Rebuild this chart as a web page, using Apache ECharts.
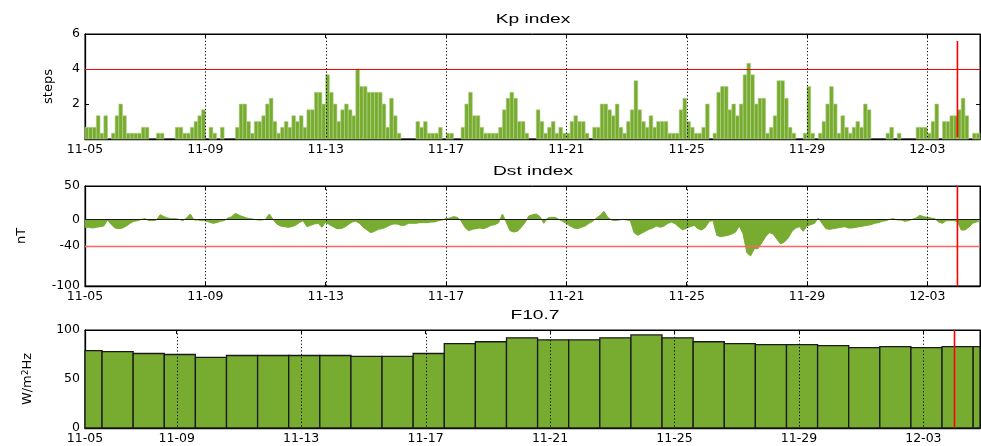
<!DOCTYPE html>
<html>
<head>
<meta charset="utf-8">
<script src="https://cdn.jsdelivr.net/npm/echarts@6.0.0/dist/echarts.min.js"></script>
<style>html,body{margin:0;padding:0;background:#fff;}#chart{width:981px;height:446px;}</style>
</head>
<body>
<div id="chart"></div>
<script>
// ---------------- data ----------------
const year = 2024;
const startDate = '11-05';
const tickLabels = ['11-05','11-09','11-13','11-17','11-21','11-25','11-29','12-03'];
const nowDate = '12-04';
const kpStepHours = 3;
const dstStepHours = 3;

// Kp index, 3-hourly, starting 11-05 00:00
const kpValues = [
  0.67,0.67,0.67,1.33,0.33,1.33,0,0.33,      // 11-05
  1.33,2.0,1.33,0.33,0.33,0.33,0.33,0.67,    // 11-06
  0.67,0,0,0.33,0.33,0,0,0,                  // 11-07
  0.67,0.67,0.33,0.33,0.67,1.0,1.33,1.67,    // 11-08
  0,0.67,0.33,0,0.67,0,0,0,                  // 11-09
  0.67,2.0,2.0,1.0,0.33,1.0,1.0,1.33,        // 11-10
  2.0,2.33,1.0,0.33,0.67,1.0,0.67,1.33,      // 11-11
  1.0,1.33,0.67,1.67,1.67,2.67,2.67,2.0,     // 11-12
  3.67,2.67,2.0,1.0,1.67,2.0,1.67,1.33,      // 11-13
  4.0,3.0,3.0,2.67,2.67,2.67,2.67,2.0,       // 11-14
  0.67,2.33,1.33,0.33,0,0,0,0,               // 11-15
  1.0,0.67,1.0,0.33,0.33,0.33,0.67,0,        // 11-16
  0.33,0.33,0,0,0.67,2.0,2.67,1.33,          // 11-17
  1.33,0.67,0.33,0.33,0.33,0.33,0.67,1.67,   // 11-18
  2.33,2.67,2.33,1.0,1.0,0.33,0,0,           // 11-19
  1.67,1.0,0.33,0.67,1.0,0.33,0.67,0.33,     // 11-20
  0.33,1.0,1.33,1.0,1.0,0.33,0,0.67,         // 11-21
  0.67,2.0,2.0,1.67,1.33,2.0,0.67,0.33,      // 11-22
  1.0,1.67,3.33,1.67,1.0,0.67,1.33,0.67,     // 11-23
  1.0,1.0,1.0,0.33,0.33,0.33,1.67,2.33,      // 11-24
  1.0,0.67,0.33,0.33,0.67,2.0,0,0.33,        // 11-25
  2.67,3.0,3.0,1.67,2.0,1.33,2.0,3.67,       // 11-26
  4.33,3.67,2.0,2.33,2.33,0.33,0.67,1.33,    // 11-27
  3.33,3.33,2.33,0.67,0.33,0,0,0.33,         // 11-28
  3.0,0.33,0,0.33,1.0,2.0,3.0,2.0,           // 11-29
  0.33,1.33,0.67,0.33,0.67,1.0,0.67,2.0,     // 11-30
  1.67,0,0,0,0,0.33,0.67,0,                  // 12-01
  0.33,0,0,0,0,0.67,0.67,0.67,               // 12-02
  0.33,1.0,2.0,0,1.0,1.0,1.33,1.33,          // 12-03
  1.67,2.33,1.33,0,0.33,0.33                 // 12-04
];

// Dst index (nT), 3-hourly samples, starting 11-05 00:00
const dstValues = [
  -12,-12,-13,-12,-11,-10,-1,-8,
  -13,-14,-13,-10,-6,-3,-2,0,
  1,-2,-2,-1,7,4,2,1,
  1,0,-2,2,8,-1,-1,-2,
  -2,-4,-6,-5,-3,-2,2,4,
  9,6,4,2,1,0,-1,-1,
  0,8,0,-7,-10,-11,-12,-11,
  -9,-5,-2,-11,-9,-7,-6,-12,
  -4,-8,-11,-14,-14,-12,-8,-4,
  -3,-6,-12,-16,-20,-18,-15,-14,
  -12,-9,-7,-7,-9,-9,-6,-6,
  -6,-5,-5,-5,-4,-4,-2,-1,
  1,2,4,3,-2,-12,-17,-15,
  -14,-13,-14,-12,-9,-8,-5,8,
  -4,-17,-19,-18,-12,-5,5,7,
  8,4,-6,2,3,3,0,-3,
  -6,-10,-13,-14,-12,-10,-6,-3,
  2,6,12,3,-1,-2,-1,0,
  -1,-2,-20,-24,-21,-18,-15,-13,
  -10,-12,-10,-6,-4,-7,-12,-16,
  -13,-11,-9,-14,-16,-12,-3,-2,
  -24,-26,-25,-24,-22,-19,-10,-22,
  -50,-55,-44,-44,-35,-26,-20,-22,
  -30,-37,-34,-28,-18,-13,-11,-18,
  -10,-8,-6,2,-6,-14,-15,-14,
  -13,-12,-11,-13,-13,-12,-11,-10,
  -9,-8,-6,-5,-3,-2,0,1,
  -1,-1,-3,-2,0,2,6,4,
  3,2,1,-4,-6,-2,-2,-2,
  -3,-16,-16,-12,-6,-4,-3
];

// F10.7 daily values
const f107Dates = ['11-06','11-07','11-08','11-09','11-10','11-11','11-12','11-13','11-14','11-15',
  '11-16','11-17','11-18','11-19','11-20','11-21','11-22','11-23','11-24','11-25',
  '11-26','11-27','11-28','11-29','11-30','12-01','12-02','12-03','12-04','12-05'];
const f107Values = [79,78,76,75,72,74,74,74,74,73,73,76,86,88,92,90,90,92,95,92,88,86,85,85,84,82,83,82,83,83];

const kpThreshold = 4;
const dstThreshold = -40;
const kpYTicks = [0,2,4,6];
const kpYLabels = [2,4,6];
const dstYTicks = [-100,-40,0,50];
const f107YTicks = [0,50,100];

// ---------------- helpers ----------------
const GREEN = '#77ac30';
const FONT = 'DejaVu Sans';
const DAY = 86400000;
function dayOf(md){
  const s = startDate.split('-').map(Number), p = md.split('-').map(Number);
  return (Date.UTC(year, p[0]-1, p[1]) - Date.UTC(year, s[0]-1, s[1])) / DAY;
}
const tickDays = tickLabels.map(dayOf);
const nowDay = dayOf(nowDate);
const kpStep = kpStepHours/24, dstStep = dstStepHours/24;

// axis ranges (layout)
const x12Min = 0, x12Max = 29.75;
const x3Min = 1.052, x3Max = 29.82;
const f107Shift = 0.1;
const x3LabelPos = [x3Min].concat(tickDays.slice(1));

function labelFor(positions){
  return function(v){
    let b = 0;
    for (let i=1;i<positions.length;i++) if (Math.abs(positions[i]-v) < Math.abs(positions[b]-v)) b = i;
    return tickLabels[b];
  };
}
function clip(params, r){
  const cs = params.coordSys;
  return echarts.graphic.clipRectByRect(r, {x:cs.x, y:cs.y, width:cs.width, height:cs.height});
}

const labelStyle = {fontFamily:FONT, fontSize:12.5, color:'#000'};

function xBottom(g, min, max, labelPos){
  return {type:'value', gridIndex:g, min:min, max:max, position:'bottom',
    axisLine:{show:true, onZero:false, lineStyle:{color:'#000', width:1.3}},
    axisTick:{show:true, inside:true, length:4, customValues:tickDays.filter(d=>d>=min&&d<=max), lineStyle:{color:'#000'}},
    axisLabel:Object.assign({show:true, margin:4, customValues:labelPos, formatter:labelFor(labelPos)}, labelStyle),
    splitLine:{show:false}};
}
function xTop(g, min, max){
  return {type:'value', gridIndex:g, min:min, max:max, position:'top',
    axisLine:{show:true, onZero:false, lineStyle:{color:'#000', width:1}},
    axisTick:{show:true, inside:true, length:4, customValues:tickDays.filter(d=>d>=min&&d<=max), lineStyle:{color:'#000'}},
    axisLabel:{show:false}, splitLine:{show:false}};
}
function yLeft(g, min, max, ticks, labels, name, gap, rich){
  const ax = {type:'value', gridIndex:g, min:min, max:max, position:'left',
    axisLine:{show:true, onZero:false, lineStyle:{color:'#000', width:1.3}},
    axisTick:{show:true, inside:true, length:4, customValues:ticks, lineStyle:{color:'#000'}},
    axisLabel:Object.assign({show:true, margin:5, customValues:labels}, labelStyle),
    splitLine:{show:false},
    name:name, nameLocation:'middle', nameGap:gap,
    nameTextStyle:{fontFamily:FONT, fontSize:13, color:'#000'}};
  if (rich) ax.nameTextStyle.rich = rich;
  return ax;
}
function yRight(g, min, max, ticks){
  return {type:'value', gridIndex:g, min:min, max:max, position:'right',
    axisLine:{show:true, onZero:false, lineStyle:{color:'#000', width:1}},
    axisTick:{show:true, inside:true, length:4, customValues:ticks, lineStyle:{color:'#000'}},
    axisLabel:{show:false}, splitLine:{show:false}};
}

function dottedSeries(xi, yi, min, max){
  return {type:'custom', xAxisIndex:xi, yAxisIndex:yi, z:6, silent:true,
    data: tickDays.filter(d=>d>min+0.2 && d<max).map(d=>[d]),
    renderItem:(params, api)=>{
      const cs = params.coordSys;
      const x = Math.round(api.coord([api.value(0), 0])[0]) + 0.5;
      return {type:'line', shape:{x1:x, y1:cs.y, x2:x, y2:cs.y+cs.height},
        style:{stroke:'#000', lineWidth:1, lineDash:[1.2,2.2]}};
    }};
}
function hLineSeries(xi, yi, xmin, v, color, width){
  return {type:'custom', xAxisIndex:xi, yAxisIndex:yi, z:7, silent:true,
    data:[[xmin, v]],
    renderItem:(params, api)=>{
      const cs = params.coordSys;
      const y = Math.round(api.coord([api.value(0), api.value(1)])[1]) + 0.5;
      return {type:'line', shape:{x1:cs.x, y1:y, x2:cs.x+cs.width, y2:y},
        style:{stroke:color, lineWidth:width}};
    }};
}
function nowSeries(xi, yi, yFrom, yTo){
  return {type:'custom', xAxisIndex:xi, yAxisIndex:yi, z:8, silent:true,
    data:[[nowDay, yFrom, yTo]],
    renderItem:(params, api)=>{
      const cs = params.coordSys;
      const a = api.coord([api.value(0), api.value(1)]);
      const b = api.coord([api.value(0), api.value(2)]);
      const y1 = Math.max(cs.y, Math.min(a[1], b[1])), y2 = Math.min(cs.y+cs.height, Math.max(a[1], b[1]));
      return {type:'line', shape:{x1:a[0], y1:y1, x2:a[0], y2:y2},
        style:{stroke:'#ff0000', lineWidth:1.6}};
    }};
}

const option = {
  animation:false,
  backgroundColor:'#fff',
  grid:[
    {left:85, top:34, width:895, height:105, show:true, borderColor:'#000', borderWidth:1},
    {left:85, top:186, width:895, height:100, show:true, borderColor:'#000', borderWidth:1},
    {left:85, top:330, width:895, height:98, show:true, borderColor:'#000', borderWidth:1}
  ],
  xAxis:[
    xBottom(0, x12Min, x12Max, tickDays),
    xBottom(1, x12Min, x12Max, tickDays),
    xBottom(2, x3Min, x3Max, x3LabelPos),
    xTop(0, x12Min, x12Max), xTop(1, x12Min, x12Max), xTop(2, x3Min, x3Max)
  ],
  yAxis:[
    yLeft(0, 0, 6, kpYTicks, kpYLabels, 'steps', 30),
    yLeft(1, -100, 50, dstYTicks, dstYTicks, 'nT', 57),
    yLeft(2, 0, 100, f107YTicks, f107YTicks, 'W/m{sup|2}Hz', 51, {sup:{fontFamily:FONT, fontSize:9, verticalAlign:'top', color:'#000'}}),
    yRight(0, 0, 6, kpYTicks), yRight(1, -100, 50, dstYTicks), yRight(2, 0, 100, f107YTicks)
  ],
  graphic:[
    {type:'text', x:533, y:20, scaleX:1.6, silent:true,
      style:{text:'Kp index', fontFamily:'Liberation Sans', fontSize:12, fill:'#000', align:'center', verticalAlign:'middle', textAlign:'center', textVerticalAlign:'middle'}},
    {type:'text', x:533, y:172, scaleX:1.6, silent:true,
      style:{text:'Dst index', fontFamily:'Liberation Sans', fontSize:12, fill:'#000', align:'center', verticalAlign:'middle', textAlign:'center', textVerticalAlign:'middle'}},
    {type:'text', x:535, y:316, scaleX:1.6, silent:true,
      style:{text:'F10.7', fontFamily:'Liberation Sans', fontSize:12, fill:'#000', align:'center', verticalAlign:'middle', textAlign:'center', textVerticalAlign:'middle'}}
  ],
  series:[
    // Kp bars
    {type:'custom', name:'Kp', xAxisIndex:0, yAxisIndex:0, z:2, silent:true,
      data: kpValues.map((v,i)=>[i*kpStep, v]),
      renderItem:(params, api)=>{
        const s = api.value(0), v = api.value(1);
        if (!(v > 0)) return null;
        const a = api.coord([s, v]), b = api.coord([s+kpStep, 0]);
        const r = clip(params, {x:a[0], y:a[1], width:b[0]-a[0], height:b[1]-a[1]});
        if (!r) return null;
        return {type:'rect', shape:r, style:{fill:GREEN, stroke:'#b5d48f', lineWidth:0.6}};
      }},
    dottedSeries(0, 0, x12Min, x12Max),
    hLineSeries(0, 0, x12Min, kpThreshold, '#ff0000', 1.2),
    nowSeries(0, 0, 0.1, 5.6),

    // Dst area
    {type:'line', name:'Dst', xAxisIndex:1, yAxisIndex:1, z:2, silent:true,
      data: dstValues.map((v,i)=>[i*dstStep, v]),
      showSymbol:false, symbol:'none', clip:true,
      lineStyle:{color:GREEN, width:1},
      areaStyle:{color:GREEN, opacity:1, origin:0}},
    dottedSeries(1, 1, x12Min, x12Max),
    hLineSeries(1, 1, x12Min, 0, '#1a1a1a', 1.2),
    hLineSeries(1, 1, x12Min, dstThreshold, '#ff6464', 1.4),
    nowSeries(1, 1, -100, 50),

    // F10.7 bars
    {type:'custom', name:'F10.7', xAxisIndex:2, yAxisIndex:2, z:2, silent:true,
      data: f107Dates.map((d,i)=>[dayOf(d), f107Values[i]]),
      renderItem:(params, api)=>{
        const c = api.value(0) + f107Shift, v = api.value(1);
        const a = api.coord([c-0.5, v]), b = api.coord([c+0.5, 0]);
        const r = clip(params, {x:a[0], y:a[1], width:b[0]-a[0], height:b[1]-a[1]});
        if (!r) return null;
        return {type:'rect', shape:r, style:{fill:GREEN, stroke:'#1a1a1a', lineWidth:1.3}};
      }},
    dottedSeries(2, 2, x3Min, x3Max),
    nowSeries(2, 2, 0, 100)
  ]
};

const chart = echarts.init(document.getElementById('chart'), null, {renderer:'canvas'});
chart.setOption(option);
</script>
</body>
</html>
